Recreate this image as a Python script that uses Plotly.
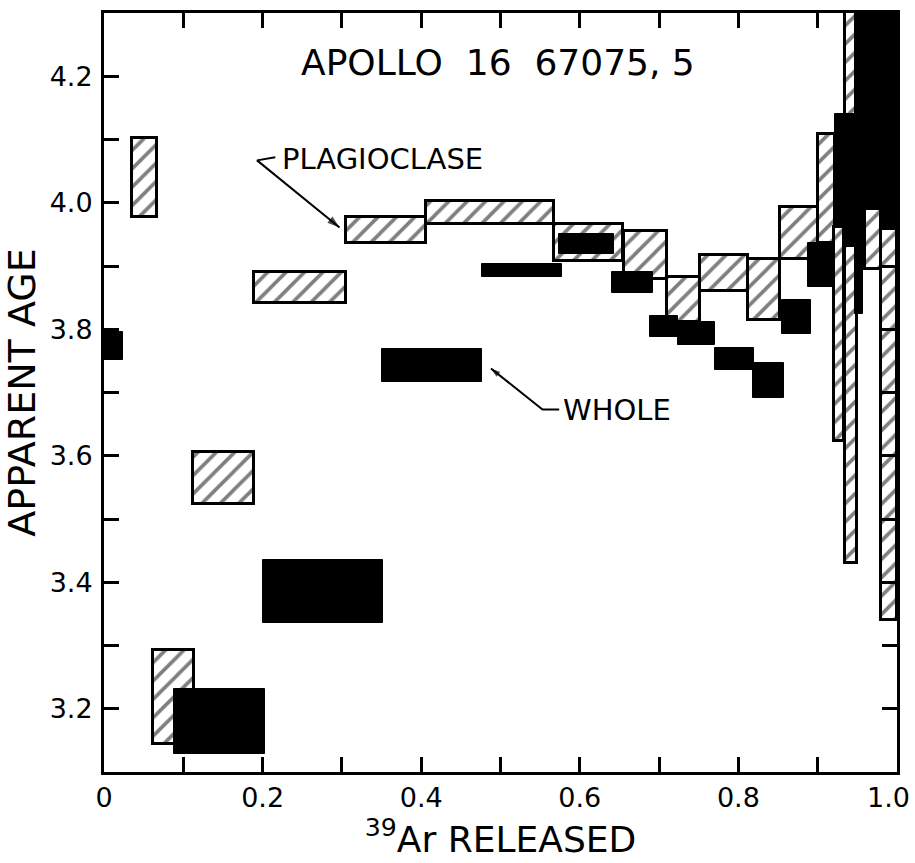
import plotly.graph_objects as go

# ---------------- data ----------------
# Plagioclase steps: fraction of 39Ar released (start, end) and apparent age range (Gyr)
plag_x0 = [0.035, 0.062, 0.112, 0.189, 0.305, 0.406, 0.567, 0.656, 0.710, 0.752, 0.812, 0.852, 0.901, 0.935, 0.980]
plag_x1 = [0.067, 0.114, 0.189, 0.305, 0.406, 0.567, 0.655, 0.710, 0.752, 0.812, 0.852, 0.901, 0.922, 0.949, 1.000]
plag_lo = [3.977, 3.145, 3.524, 3.841, 3.937, 3.966, 3.908, 3.879, 3.811, 3.861, 3.814, 3.911, 3.937, 3.430, 3.340]
plag_hi = [4.102, 3.293, 3.606, 3.891, 3.977, 4.002, 3.966, 3.956, 3.882, 3.917, 3.911, 3.993, 4.109, 4.400, 3.958]

# Whole-rock steps
whole_x0 = [0.000, 0.088, 0.200, 0.351, 0.477, 0.574, 0.640, 0.689, 0.724, 0.770, 0.819, 0.855, 0.888, 0.922, 0.947, 0.957]
whole_x1 = [0.024, 0.203, 0.352, 0.477, 0.578, 0.643, 0.692, 0.724, 0.770, 0.820, 0.858, 0.892, 0.922, 0.947, 0.957, 1.000]
whole_lo = [3.752, 3.128, 3.335, 3.716, 3.882, 3.919, 3.858, 3.787, 3.775, 3.736, 3.692, 3.792, 3.867, 3.930, 3.824, 3.960]
whole_hi = [3.795, 3.232, 3.435, 3.768, 3.903, 3.950, 3.890, 3.821, 3.811, 3.771, 3.747, 3.846, 3.937, 4.140, 4.400, 4.400]

# Plagioclase steps drawn over the whole-rock boxes
plag2_x0 = [0.920, 0.960]
plag2_x1 = [0.933, 0.980]
plag2_lo = [3.623, 3.895]
plag2_hi = [3.961, 3.990]

x_tickvals = [0.0, 0.1, 0.2, 0.3, 0.4, 0.5, 0.6, 0.7, 0.8, 0.9, 1.0]
x_ticktext = ["0", "", "0.2", "", "0.4", "", "0.6", "", "0.8", "", "1.0\u00a0\u00a0"]
y_tickvals = [3.2, 3.3, 3.4, 3.5, 3.6, 3.7, 3.8, 3.9, 4.0, 4.1, 4.2]
y_ticktext = ["3.2", "", "3.4", "", "3.6", "", "3.8", "", "4.0", "", "4.2"]

FONT = "DejaVu Sans"


def bar_geom(x0, x1, lo, hi):
    cx = [(a + b) / 2 for a, b in zip(x0, x1)]
    w = [b - a for a, b in zip(x0, x1)]
    h = [t - l for l, t in zip(lo, hi)]
    return cx, w, lo, h


hatch = dict(shape="/", fgcolor="black", bgcolor="white", size=13, solidity=0.28)

fig = go.Figure()

cx, w, b, h = bar_geom(plag_x0, plag_x1, plag_lo, plag_hi)
fig.add_trace(go.Bar(x=cx, y=h, base=b, width=w, name="PLAGIOCLASE",
                     marker=dict(color="white", line=dict(color="black", width=3), pattern=hatch),
                     showlegend=False, hoverinfo="skip"))

cx, w, b, h = bar_geom(whole_x0, whole_x1, whole_lo, whole_hi)
fig.add_trace(go.Bar(x=cx, y=h, base=b, width=w, name="WHOLE",
                     marker=dict(color="black", line=dict(color="black", width=1)),
                     showlegend=False, hoverinfo="skip"))

cx, w, b, h = bar_geom(plag2_x0, plag2_x1, plag2_lo, plag2_hi)
fig.add_trace(go.Bar(x=cx, y=h, base=b, width=w, name="PLAGIOCLASE",
                     marker=dict(color="white", line=dict(color="black", width=3), pattern=hatch),
                     showlegend=False, hoverinfo="skip"))

# leader lines from the labels to the boxes, ending in arrowheads
leaders = [
    ([0.216, 0.193, 0.297], [4.072, 4.067, 3.961], 13),
    ([0.574, 0.553, 0.488], [3.673, 3.673, 3.738], 10),
]
for lx, ly, hs in leaders:
    fig.add_trace(go.Scatter(x=lx, y=ly, mode="lines+markers", showlegend=False, hoverinfo="skip",
                             line=dict(color="black", width=2),
                             marker=dict(symbol="arrow", angleref="previous", color="black",
                                         size=[0, 0, hs], line=dict(width=0))))

axis_common = dict(showline=True, linecolor="black", linewidth=3, mirror="ticks",
                   ticks="inside", ticklen=15, tickwidth=2.5, tickcolor="black",
                   showgrid=False, zeroline=False, automargin=False,
                   ticklabeloverflow="allow",
                   tickfont=dict(family=FONT, size=27, color="black"))

fig.update_xaxes(range=[0, 1.0], tickmode="array", tickvals=x_tickvals, ticktext=x_ticktext,
                 title=dict(text="<sup>39</sup>Ar RELEASED", font=dict(family=FONT, size=36, color="black"),
                            standoff=10),
                 **axis_common)
fig.update_yaxes(range=[3.1, 4.3], tickmode="array", tickvals=y_tickvals, ticktext=y_ticktext,
                 ticklabelstandoff=3,
                 title=dict(text="APPARENT AGE", font=dict(family=FONT, size=38, color="black"),
                            standoff=6),
                 **axis_common)

annotations = [
    dict(x=0.497, y=4.222, xref="x", yref="y", text="APOLLO  16  67075, 5", showarrow=False,
         font=dict(family=FONT, size=36, color="black"), xanchor="center", yanchor="middle"),
    dict(x=0.2225, y=4.069, xref="x", yref="y", text="PLAGIOCLASE", showarrow=False,
         font=dict(family=FONT, size=29, color="black"), xanchor="left", yanchor="middle"),
    dict(x=0.5765, y=3.673, xref="x", yref="y", text="WHOLE", showarrow=False,
         font=dict(family=FONT, size=29, color="black"), xanchor="left", yanchor="middle"),
]

fig.update_layout(width=915, height=863, autosize=False,
                  margin=dict(l=104, r=18, t=13, b=91),
                  barmode="overlay", bargap=0,
                  paper_bgcolor="white", plot_bgcolor="white",
                  font=dict(family=FONT, color="black"),
                  annotations=annotations)

# remove the browser's default 8px body margin so the figure fills the window exactly
fig.write_html("out.html", config={"displayModeBar": False},
               post_script="document.body.style.margin='0';document.body.style.overflow='hidden';")
